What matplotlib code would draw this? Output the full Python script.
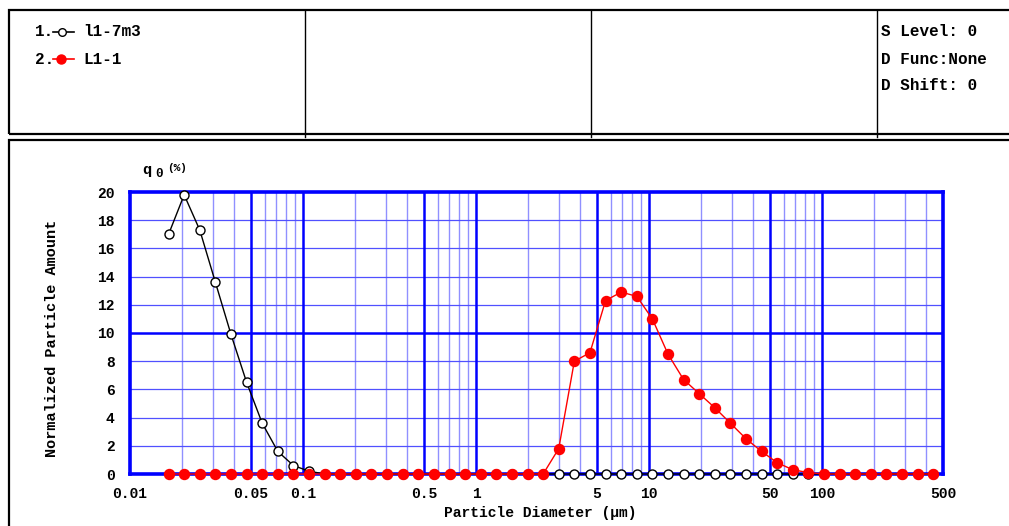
import matplotlib
matplotlib.use("Agg")
import matplotlib.pyplot as plt
from matplotlib.patches import Rectangle
from matplotlib.lines import Line2D

# ---- data ---------------------------------------------------------------
diameters = [0.01671, 0.02056, 0.02531, 0.03115, 0.03834, 0.04721, 0.05810,
             0.07151, 0.08804, 0.1083, 0.1334, 0.1641, 0.2020, 0.2487,
             0.3061, 0.3767, 0.4637, 0.5708, 0.7025, 0.8647, 1.064, 1.310,
             1.612, 1.984, 2.443, 3.006, 3.700, 4.555, 5.606, 6.901, 8.492,
             10.45, 12.87, 15.83, 19.49, 23.99, 29.53, 36.34, 44.73, 55.06,
             67.76, 83.40, 102.7, 126.4, 155.5, 191.4, 235.6, 290.0, 357.0,
             439.4]

l1_7m3 = [17.0, 19.8, 17.3, 13.6, 9.9, 6.5, 3.6, 1.6, 0.6, 0.2,
          0, 0, 0, 0, 0, 0, 0, 0, 0, 0,
          0, 0, 0, 0, 0, 0, 0, 0, 0, 0,
          0, 0, 0, 0, 0, 0, 0, 0, 0, 0,
          0, 0, 0, 0, 0, 0, 0, 0, 0, 0]

L1_1 = [0, 0, 0, 0, 0, 0, 0, 0, 0, 0,
        0, 0, 0, 0, 0, 0, 0, 0, 0, 0,
        0, 0, 0, 0, 0, 1.8, 8.0, 8.6, 12.3, 12.9,
        12.6, 11.0, 8.5, 6.7, 5.7, 4.7, 3.6, 2.5, 1.6, 0.8,
        0.3, 0.1, 0, 0, 0, 0, 0, 0, 0, 0]

x_ticks = [0.01, 0.05, 0.1, 0.5, 1, 5, 10, 50, 100, 500]
x_tick_labels = ["0.01", "0.05", "0.1", "0.5", "1", "5", "10", "50", "100", "500"]
y_ticks = [0, 2, 4, 6, 8, 10, 12, 14, 16, 18, 20]

FONT = "Liberation Mono"
W, H = 1009, 526


def px(x, y):
    """pixel position (from top-left) -> figure fraction"""
    return x / W, 1 - y / H


fig = plt.figure(figsize=(W / 100, H / 100), dpi=100)

# ---- frames around header and plot area ----------------------------------
x0, y0 = px(9, 134)
fig.add_artist(Rectangle((x0, y0), 1.2, 124 / H, transform=fig.transFigure,
                         fill=False, lw=1.6, ec="black", clip_on=False))
for xd in (305, 591, 877):
    xa, ya = px(xd, 10)
    _, yb = px(xd, 137)
    fig.add_artist(Line2D([xa, xa], [ya, yb], transform=fig.transFigure,
                          color="black", lw=1.0))
x0, y0 = px(9, 140)
fig.add_artist(Rectangle((x0, -0.2), 1.2, y0 + 0.2, transform=fig.transFigure,
                         fill=False, lw=1.6, ec="black", clip_on=False))

# ---- header texts ---------------------------------------------------------
hdr = dict(family=FONT, fontsize=11.5, fontweight="bold", va="center", ha="left")
fig.text(*px(35, 32), "1.", **hdr)
fig.text(*px(83, 32), "l1-7m3", **hdr)
fig.text(*px(35, 59), "2.", **hdr)
fig.text(*px(83, 59), "L1-1", **hdr)
fig.text(*px(881, 32), "S Level: 0", **hdr)
fig.text(*px(881, 59), "D Func:None", **hdr)
fig.text(*px(881, 86), "D Shift: 0", **hdr)

(xa, ya), (xb, _) = px(53, 32), px(74, 32)
fig.add_artist(Line2D([xa, xb], [ya, ya], transform=fig.transFigure, color="black",
                      lw=1.2))
fig.add_artist(Line2D([px(62, 32)[0]], [ya], transform=fig.transFigure, marker="o",
                      ms=5.5, mfc="white", mec="black", mew=1.0))
(xa, ya), (xb, _) = px(53, 59), px(74, 59)
fig.add_artist(Line2D([xa, xb], [ya, ya], transform=fig.transFigure, color="red",
                      lw=1.2))
fig.add_artist(Line2D([px(61, 59)[0]], [ya], transform=fig.transFigure, marker="o",
                      ms=6.5, mfc="red", mec="red"))

# ---- main plot ------------------------------------------------------------
ax = fig.add_axes([130 / W, 1 - 474 / H, (943 - 130) / W, (474 - 192) / H])
ax.set_xscale("log")
ax.set_xlim(0.01, 500)
ax.set_ylim(0, 20)

# grid: light minor lines, heavier major lines
minor_x = [m * 10.0 ** e for e in range(-2, 2) for m in (2, 3, 4, 6, 7, 8, 9)]
minor_x += [200, 300, 400]
for xv in minor_x:
    ax.axvline(xv, color="#9090ff", lw=1.0, zorder=1)
for yv in y_ticks:
    if yv not in (0, 10, 20):
        ax.axhline(yv, color="#5050ff", lw=0.9, zorder=1)
for xv in (0.05, 0.1, 0.5, 1, 5, 10, 50, 100):
    ax.axvline(xv, color="#0000ff", lw=1.8, zorder=1.5)
ax.axhline(10, color="#0000ff", lw=1.8, zorder=1.5)

ax.plot(diameters, l1_7m3, color="black", lw=1.0, marker="o", ms=6.5,
        mfc="white", mec="black", mew=1.0, zorder=3, clip_on=False)
ax.plot(diameters, L1_1, color="red", lw=1.0, marker="o", ms=7.2,
        mfc="red", mec="red", zorder=4, clip_on=False)

for side in ax.spines.values():
    side.set_color("#0000ff")
    side.set_linewidth(2.6)
    side.set_zorder(2)

ax.set_xticks(x_ticks)
ax.set_xticklabels(x_tick_labels)
ax.xaxis.set_minor_locator(plt.NullLocator())
ax.set_yticks(y_ticks)
ax.tick_params(length=0, labelsize=10.5)
ax.tick_params(axis="x", pad=9)
ax.tick_params(axis="y", pad=11)
for lab in ax.get_xticklabels() + ax.get_yticklabels():
    lab.set_family(FONT)
    lab.set_fontweight("bold")

fig.text(*px(52, 338), "Normalized Particle Amount", family=FONT,
         fontweight="bold", fontsize=11, rotation=90, ha="center", va="center")
fig.text(*px(540, 513), "Particle Diameter (\u03bcm)", family=FONT,
         fontweight="bold", fontsize=10.5, ha="center", va="center")

# q0(%) label above the axis
fig.text(*px(142, 170), "q", family=FONT, fontweight="bold", fontsize=11,
         ha="left", va="center")
fig.text(*px(155, 174), "0", family=FONT, fontweight="bold", fontsize=9,
         ha="left", va="center")
fig.text(*px(167, 168), "(%)", family=FONT, fontweight="bold", fontsize=8,
         ha="left", va="center")

fig.savefig("out.png", dpi=100)
